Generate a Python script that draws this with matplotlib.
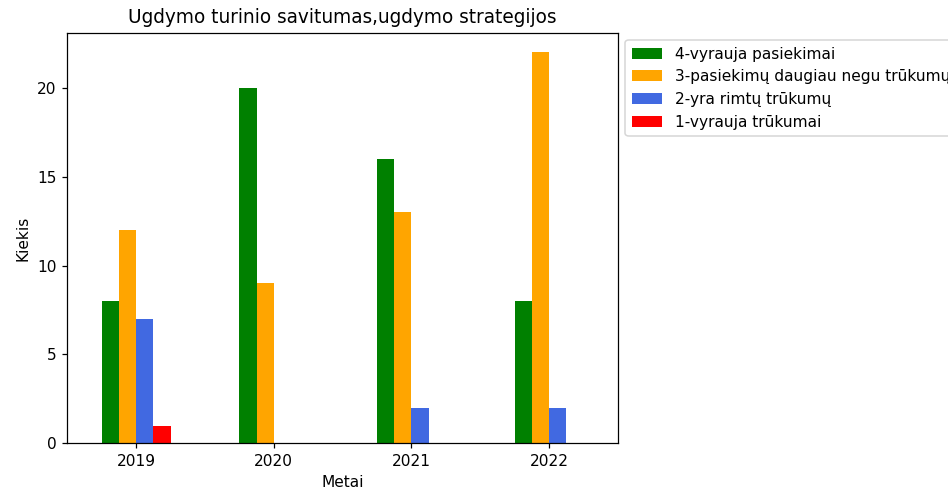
import numpy as np
import matplotlib
matplotlib.use("Agg")
import matplotlib.pyplot as plt

# data
metai = ["2019", "2020", "2021", "2022"]
series_names = [
    "4-vyrauja pasiekimai",
    "3-pasiekimų daugiau negu trūkumų",
    "2-yra rimtų trūkumų",
    "1-vyrauja trūkumai",
]
vyrauja_pasiekimai = [8, 20, 16, 8]
daugiau_pasiekimu = [12, 9, 13, 22]
rimtu_trukumu = [7, 0, 2, 2]
vyrauja_trukumai = [1, 0, 0, 0]
colors = ["green", "orange", "royalblue", "red"]

all_series = [vyrauja_pasiekimai, daugiau_pasiekimu, rimtu_trukumu, vyrauja_trukumai]

# original looks rendered a bit bigger, so use a higher dpi
DPI = 111
fig = plt.figure(figsize=(948 / DPI, 490 / DPI), dpi=DPI)
ax = fig.add_axes([0.071, 0.0953, 0.5806, 0.838])

x = np.arange(len(metai))
w = 0.125
for i, (vals, name, c) in enumerate(zip(all_series, series_names, colors)):
    ax.bar(x + (i - 1.5) * w, vals, width=w, color=c, label=name)

ax.set_xlim(-0.5, len(metai) - 0.5)
ax.set_xticks(x)
ax.set_xticklabels(metai)
ax.set_title("Ugdymo turinio savitumas,ugdymo strategijos", fontsize=12)
ax.set_xlabel("Metai")
ax.set_ylabel("Kiekis")
ax.legend(loc="upper left", bbox_to_anchor=(1, 1))

fig.savefig("out.png", dpi=DPI)
